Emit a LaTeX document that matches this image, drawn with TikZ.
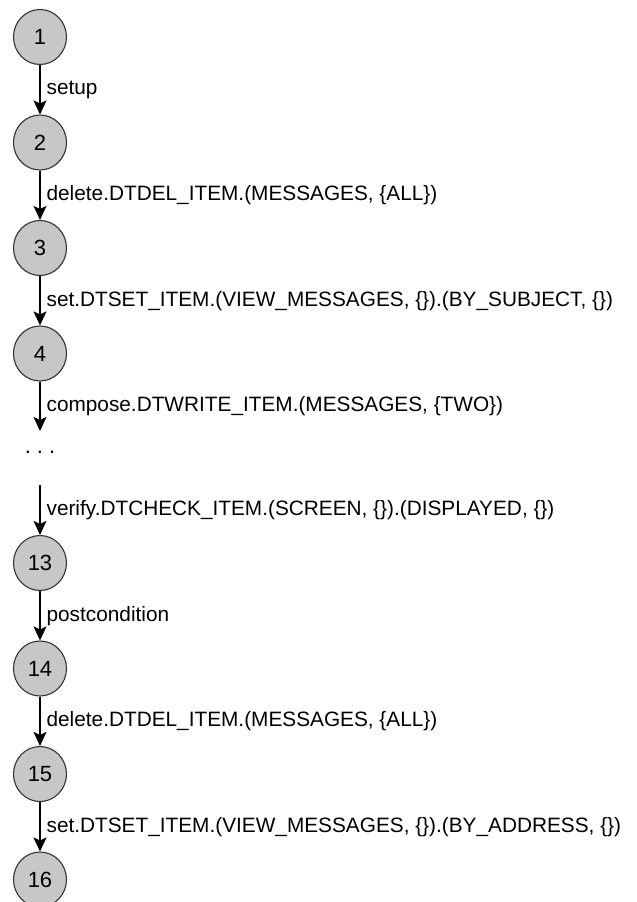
\documentclass[tikz,border=0pt]{standalone}
\usepackage{fontspec}
\setmainfont{Liberation Sans}
\usetikzlibrary{arrows.meta,shapes.geometric}
\begin{document}
\begin{tikzpicture}[x=1pt,y=-1pt,
  state/.style={ellipse, draw=black!80, line width=1.1pt, fill=black!22,
    minimum width=53pt, minimum height=55pt, inner sep=0pt,
    font=\fontsize{22}{24}\selectfont},
  trans/.style={-{Stealth[length=14pt,width=13pt,inset=3pt]}, line width=1.2pt},
  lbl/.style={anchor=west, inner sep=0pt, xshift=6pt,
    font=\fontsize{20.8}{24}\selectfont}]
\useasboundingbox (0,0) rectangle (637,902);
% states of the test sequence
\node[state] (n1) at (40,37) {1};
\node[state] (n2) at (40,142.5) {2};
\node[state] (n3) at (40,248) {3};
\node[state] (n4) at (40,353.5) {4};
\node[inner sep=0pt, font=\fontsize{22}{24}\selectfont] (dots) at (40,452)
  {.\hspace{6pt}.\hspace{6pt}.};
\coordinate (gapTop) at (40,431);
\coordinate (gapBot) at (40,485);
\node[state] (n13) at (40,563) {13};
\node[state] (n14) at (40,668.5) {14};
\node[state] (n15) at (40,774) {15};
\node[state] (n16) at (40,879.5) {16};

% transitions
\draw[trans] (n1) -- node[lbl] {setup} (n2);
\draw[trans] (n2) -- node[lbl] {delete.DTDEL\_ITEM.(MESSAGES, \{ALL\})} (n3);
\draw[trans] (n3) -- node[lbl] {set.DTSET\_ITEM.(VIEW\_MESSAGES, \{\}).(BY\_SUBJECT, \{\})} (n4);
\draw[trans] (n4) -- node[lbl] {compose.DTWRITE\_ITEM.(MESSAGES, \{TWO\})} (gapTop);
\draw[trans] (gapBot) -- node[lbl] {verify.DTCHECK\_ITEM.(SCREEN, \{\}).(DISPLAYED, \{\})} (n13);
\draw[trans] (n13) -- node[lbl] {postcondition} (n14);
\draw[trans] (n14) -- node[lbl] {delete.DTDEL\_ITEM.(MESSAGES, \{ALL\})} (n15);
\draw[trans] (n15) -- node[lbl] {set.DTSET\_ITEM.(VIEW\_MESSAGES, \{\}).(BY\_ADDRESS, \{\})} (n16);
\end{tikzpicture}
\end{document}
